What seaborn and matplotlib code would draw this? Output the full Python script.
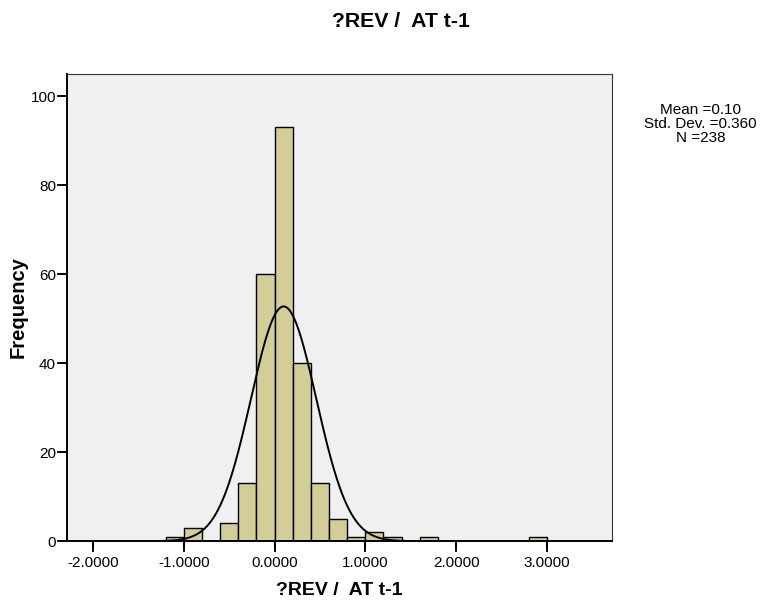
import numpy as np
import pandas as pd
import matplotlib
matplotlib.use("Agg")
import matplotlib.pyplot as plt
from matplotlib.lines import Line2D
import seaborn as sns

# Histogram data (bin width 0.2)
bin_left = [-1.2, -1.0, -0.8, -0.6, -0.4, -0.2, 0.0, 0.2, 0.4, 0.6, 0.8, 1.0, 1.2, 1.4, 1.6, 2.8]
counts   = [1, 3, 0, 4, 13, 60, 93, 40, 13, 5, 1, 2, 1, 0, 1, 1]
bin_width = 0.2
mean_val = 0.10
std_val = 0.360
n_val = 238
x_ticks = [-2.0, -1.0, 0.0, 1.0, 2.0, 3.0]
y_ticks = [0, 20, 40, 60, 80, 100]
title = "?REV /  AT t-1"

sns.set_theme(style="ticks")
plt.rcParams['font.family'] = ['Liberation Sans', 'DejaVu Sans']
plt.rcParams['text.color'] = 'black'
plt.rcParams['axes.labelcolor'] = 'black'
plt.rcParams['xtick.color'] = 'black'
plt.rcParams['ytick.color'] = 'black'

df = pd.DataFrame({"x": np.array(bin_left) + bin_width / 2, "w": counts})
edges = [round(v, 6) for v in np.arange(-1.2, 3.0 + 1e-9, bin_width)]

fig = plt.figure(figsize=(7.64, 6.06), dpi=100)
ax = fig.add_axes([0.0877, 0.107, 0.713, 0.771])
ax.set_facecolor("#F0F0F0")

sns.histplot(data=df, x="x", weights="w", bins=edges, ax=ax,
             color="#D3CE98", alpha=1.0, edgecolor="black", linewidth=1.0)

xs = np.linspace(-2.0, 3.0, 600)
ys = n_val * bin_width / (std_val * np.sqrt(2 * np.pi)) * np.exp(-0.5 * ((xs - mean_val) / std_val) ** 2)
sns.lineplot(x=xs, y=ys, ax=ax, color="black", linewidth=1.4)

ax.set_xlim(-2.286, 3.714)
ax.set_ylim(0, 105)
ax.set_xticks(x_ticks)
ax.set_xticklabels([f"{t:.4f}" for t in x_ticks])
ax.set_yticks(y_ticks)
ax.tick_params(axis="x", which="major", direction="out", length=8, width=1.3,
               labelsize=11, bottom=True, color="black", labelcolor="black", pad=3)
ax.tick_params(axis="y", which="major", direction="out", length=7, width=1.3,
               labelsize=11, left=True, color="black", labelcolor="black", pad=1)

# explicit tick marks (drawn outside the axes)
for t in x_ticks:
    ax.add_line(Line2D([t, t], [0, -0.0171], transform=ax.get_xaxis_transform(),
                       color="black", linewidth=1.3, clip_on=False))
for t in y_ticks:
    ax.add_line(Line2D([0, -0.0128], [t, t], transform=ax.get_yaxis_transform(),
                       color="black", linewidth=1.3, clip_on=False))

for side in ["top", "right"]:
    ax.spines[side].set_visible(True)
    ax.spines[side].set_color("#333333")
    ax.spines[side].set_linewidth(0.8)
for side in ["left", "bottom"]:
    ax.spines[side].set_color("black")
    ax.spines[side].set_linewidth(1.4)

ax.set_xlabel(title, fontsize=14, fontweight="bold", labelpad=8, color="black")
ax.set_ylabel("")
fig.text(0.0236, 0.493, "Frequency", rotation=90, ha="center", va="center",
         fontsize=14.5, fontweight="bold", color="black")
fig.text(0.525, 0.965, title, ha="center", va="center", fontsize=15.3, fontweight="bold", color="black")
fig.text(0.917, 0.796, f"Mean ={mean_val:.2f}\nStd. Dev. ={std_val:.3f}\nN ={n_val}",
         ha="center", va="center", fontsize=11, linespacing=1.0, color="black")

fig.savefig("out.png", dpi=100)
